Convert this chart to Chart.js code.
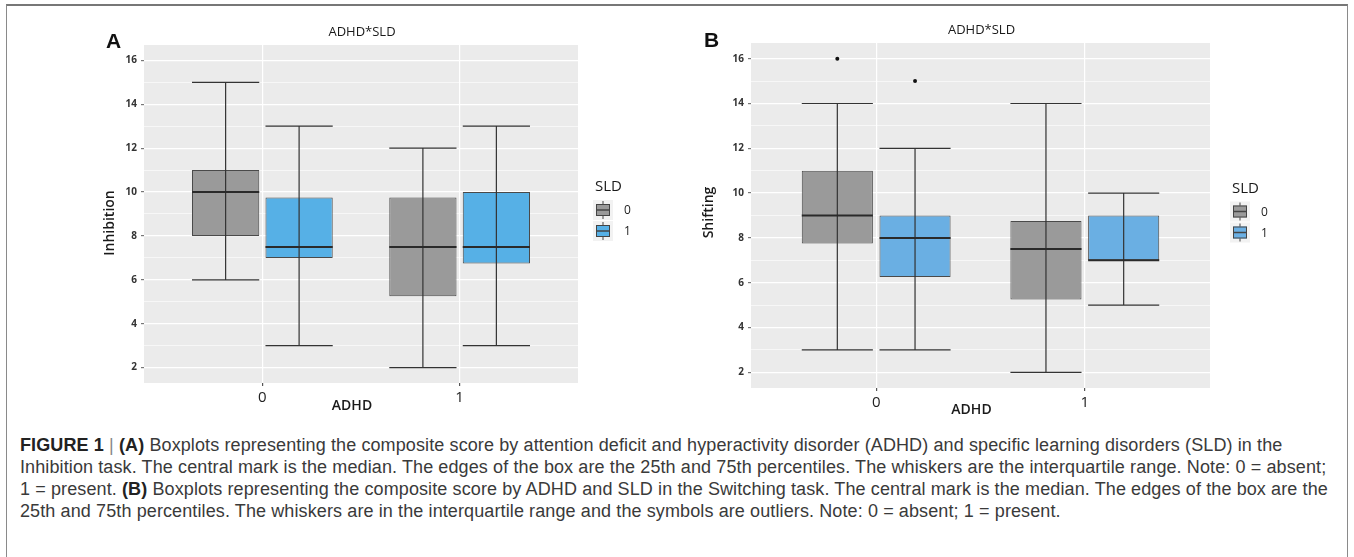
<!DOCTYPE html>
<html>
<head>
<meta charset="utf-8">
<script src="https://cdn.jsdelivr.net/npm/chart.js@4.4.0/dist/chart.umd.min.js"></script>
<style>
body { margin:0; background:#fff; width:1354px; height:557px; overflow:hidden; position:relative; }
#frame { position:absolute; left:6px; top:4px; width:1340px; height:600px; border:1px solid #8a8a8a; border-top:2px solid #777; }
.panel { position:absolute; top:0; }
#boxA { left:0; width:680px; height:420px; }
#boxB { left:680px; width:674px; height:420px; }
.letter { position:absolute; font:bold 21px "Liberation Sans", Arial, sans-serif; color:#111; }
#caption { position:absolute; left:20px; top:434px; font:18px "Liberation Sans", Arial, sans-serif; letter-spacing:0.11px; line-height:22px; color:#3a3a3a; white-space:nowrap; }
#caption b { color:#222; }
#caption .bar { color:#888; }
</style>
</head>
<body>
<div id="frame"></div>
<div class="panel" id="boxA"><canvas id="chartA" width="680" height="420"></canvas></div>
<div class="panel" id="boxB"><canvas id="chartB" width="674" height="420"></canvas></div>
<div class="letter" style="left:106px;top:29px;">A</div>
<div class="letter" style="left:704px;top:28px;">B</div>
<div id="caption">
<b>FIGURE 1</b> <span class="bar">|</span> <b>(A)</b> Boxplots representing the composite score by attention deficit and hyperactivity disorder (ADHD) and specific learning disorders (SLD) in the<br>
Inhibition task. The central mark is the median. The edges of the box are the 25th and 75th percentiles. The whiskers are the interquartile range. Note: 0 = absent;<br>
1 = present. <b>(B)</b> Boxplots representing the composite score by ADHD and SLD in the Switching task. The central mark is the median. The edges of the box are the<br>
25th and 75th percentiles. The whiskers are in the interquartile range and the symbols are outliers. Note: 0 = absent; 1 = present.
</div>
<script>
// categories
const adhdCats = ['0', '1'];
const sldLevels = ['0', '1'];

// per ADHD level: [lower whisker, q1, median, q3, upper whisker]
const inhSld0 = [[6, 8, 10, 11, 15], [2, 5.25, 7.5, 9.75, 12]];
const inhSld1 = [[3, 7, 7.5, 9.75, 13], [3, 6.75, 7.5, 10, 13]];
const shiSld0 = [[3, 7.75, 9, 11, 14], [2, 5.25, 7.5, 8.75, 14]];
const shiSld1 = [[3, 6.25, 8, 9, 12], [5, 7, 7, 9, 10]];
const shiOut0 = [[16], []];
const shiOut1 = [[15], []];
const inhOut0 = [[], []];
const inhOut1 = [[], []];

const yMin = 1.3, yMax = 16.7;
const gray = '#9a9a9a';

function drawKey(ctx, x, y, color) {
  ctx.fillStyle = '#f2f2f2';
  ctx.fillRect(x - 3, y - 10, 20, 20);
  ctx.strokeStyle = '#444';
  ctx.lineWidth = 1;
  ctx.beginPath();
  ctx.moveTo(x + 7, y - 9); ctx.lineTo(x + 7, y + 9);
  ctx.stroke();
  ctx.fillStyle = color;
  ctx.fillRect(x, y - 6, 14, 12);
  ctx.strokeRect(x + 0.5, y - 5.5, 13, 11);
  ctx.lineWidth = 1.5;
  ctx.beginPath();
  ctx.moveTo(x, y); ctx.lineTo(x + 14, y);
  ctx.stroke();
}

const boxPlugin = {
  id: 'boxes',
  beforeDraw(chart) {
    const a = chart.chartArea, ctx = chart.ctx;
    ctx.save();
    ctx.fillStyle = '#ebebeb';
    ctx.fillRect(a.left, a.top, a.right - a.left, a.bottom - a.top);
    ctx.restore();
  },
  afterDatasetsDraw(chart) {
    const ctx = chart.ctx, ys = chart.scales.y;
    chart.data.datasets.forEach((ds, di) => {
      chart.getDatasetMeta(di).data.forEach((bar, i) => {
        const s = ds.stats[i];
        const half = bar.width / 2;
        ctx.save();
        ctx.strokeStyle = '#333';
        ctx.lineWidth = 1.2;
        ctx.beginPath();
        ctx.moveTo(bar.x, ys.getPixelForValue(s[0]));
        ctx.lineTo(bar.x, ys.getPixelForValue(s[4]));
        [s[0], s[4]].forEach(v => {
          const py = ys.getPixelForValue(v);
          ctx.moveTo(bar.x - half, py);
          ctx.lineTo(bar.x + half, py);
        });
        ctx.stroke();
        ctx.lineWidth = 2;
        ctx.strokeStyle = '#2a2a2a';
        ctx.beginPath();
        const my = ys.getPixelForValue(s[2]);
        ctx.moveTo(bar.x - half, my);
        ctx.lineTo(bar.x + half, my);
        ctx.stroke();
        ctx.fillStyle = '#111';
        ds.outliers[i].forEach(v => {
          ctx.beginPath();
          ctx.arc(bar.x, ys.getPixelForValue(v), 2, 0, Math.PI * 2);
          ctx.fill();
        });
        ctx.restore();
      });
    });
  },
  afterDraw(chart, args, opts) {
    const a = chart.chartArea, ctx = chart.ctx;
    const cx = (a.left + a.right) / 2, cy = (a.top + a.bottom) / 2;
    ctx.save();
    ctx.fillStyle = '#1a1a1a';
    ctx.textAlign = 'center';
    ctx.textBaseline = 'middle';
    ctx.font = '13px "Open Sans", "Liberation Sans", sans-serif';
    ctx.fillText(opts.title, cx + 1, a.top - 13);
    ctx.font = '600 14px "Open Sans", "Liberation Sans", sans-serif';
    ctx.fillText(opts.xTitle, cx - 9, a.bottom + opts.xTitleGap);
    ctx.save();
    ctx.translate(a.left - opts.yTitleGap, cy + opts.yTitleShift);
    ctx.rotate(-Math.PI / 2);
    ctx.fillText(opts.yTitle, 0, 0);
    ctx.restore();
    // legend
    const lx = a.right + opts.legendGap;
    ctx.textAlign = 'left';
    ctx.font = '15px "Open Sans", "Liberation Sans", sans-serif';
    ctx.fillText('SLD', lx, cy - 27);
    chart.data.datasets.forEach((ds, i) => {
      const ky = cy - 4 + i * 21;
      drawKey(ctx, lx + 1, ky, ds.backgroundColor);
      ctx.fillStyle = '#222';
      ctx.font = '12px "Open Sans", "Liberation Sans", sans-serif';
      ctx.fillText(sldLevels[i], lx + 29, ky + 1);
    });
    ctx.restore();
  }
};

function makeChart(id, groups, outs, blue, pad, xHeight, opts) {
  const colors = [gray, blue];
  return new Chart(document.getElementById(id), {
    type: 'bar',
    data: {
      datasets: groups.map((g, k) => ({
        label: sldLevels[k],
        data: g.map((s, i) => ({ x: i + 1, y: [s[1], s[3]] })),
        stats: g,
        outliers: outs[k],
        backgroundColor: colors[k],
        borderColor: '#4a4a4a',
        borderWidth: 1,
        borderSkipped: false,
        categoryPercentage: 0.745,
        barPercentage: 0.915
      }))
    },
    options: {
      responsive: false,
      animation: false,
      layout: { padding: pad },
      plugins: { legend: { display: false }, tooltip: { enabled: false }, boxes: opts },
      scales: {
        x: {
          type: 'linear', min: 0.4, max: 2.6, offset: false,
          afterBuildTicks: s => { s.ticks = adhdCats.map((c, i) => ({ value: i + 1 })); },
          afterFit: s => { s.height = xHeight; },
          ticks: { callback: v => adhdCats[v - 1], color: '#222', padding: 3,
                   font: { size: 15, family: '"Open Sans", "Liberation Sans", sans-serif' } },
          grid: { color: '#ffffff', lineWidth: 1.2, tickLength: 3, tickColor: '#555', offset: false },
          border: { display: false }
        },
        y: {
          min: yMin, max: yMax,
          afterBuildTicks: s => {
            const t = [];
            for (let v = 2; v <= 16; v++) t.push({ value: v });
            s.ticks = t;
          },
          afterFit: s => { s.width = pad.yWidth; },
          ticks: { callback: v => (v % 2 === 0 ? v : ''), color: '#333', padding: 4,
                   font: { size: 10, weight: 'bold', family: '"Open Sans", "Liberation Sans", sans-serif' } },
          grid: {
            color: '#ffffff',
            lineWidth: c => (c.tick && c.tick.value % 2 === 0 ? 1.2 : 0.6),
            tickLength: 3,
            tickColor: c => (c.tick && c.tick.value % 2 === 0 ? '#777' : 'rgba(0,0,0,0)')
          },
          border: { display: false }
        }
      }
    },
    plugins: [boxPlugin]
  });
}

makeChart('chartA', [inhSld0, inhSld1], [inhOut0, inhOut1], '#56b0e6',
  { left: 0, right: 102, top: 45, bottom: 0, yWidth: 144 }, 37,
  { title: 'ADHD*SLD', xTitle: 'ADHD', yTitle: 'Inhibition', xTitleGap: 23, yTitleGap: 34, yTitleShift: 9, legendGap: 17 });

makeChart('chartB', [shiSld0, shiSld1], [shiOut0, shiOut1], '#6aafe3',
  { left: 0, right: 144, top: 43, bottom: 0, yWidth: 71 }, 32,
  { title: 'ADHD*SLD', xTitle: 'ADHD', yTitle: 'Shifting', xTitleGap: 22, yTitleGap: 42, yTitleShift: -3, legendGap: 22 });
</script>
</body>
</html>
